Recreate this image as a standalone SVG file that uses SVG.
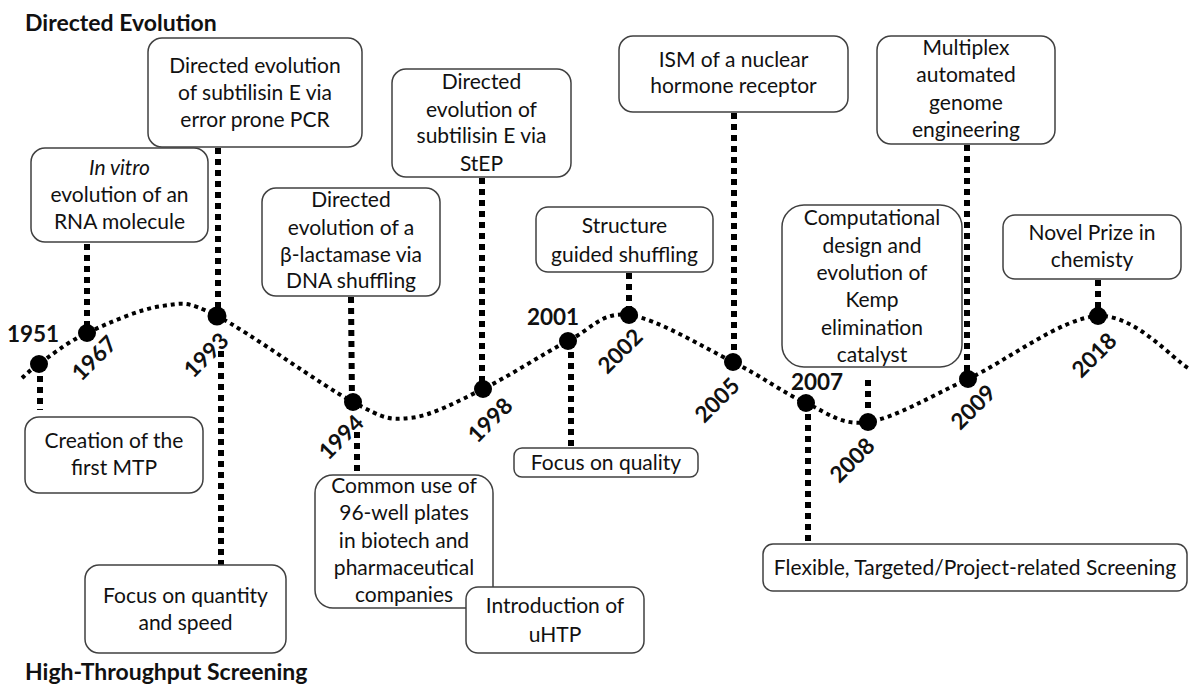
<svg xmlns="http://www.w3.org/2000/svg" width="1192" height="684" viewBox="0 0 1192 684">
<style>
.box{fill:#fff;stroke:#404040;stroke-width:1.5}
.t{font-family:Lato,"Liberation Sans",sans-serif;font-size:21px;fill:#111;text-anchor:middle}
.h{font-family:Lato,"Liberation Sans",sans-serif;font-size:23px;font-weight:bold;fill:#111}
.y{font-family:Lato,"Liberation Sans",sans-serif;font-size:22.5px;font-weight:bold;fill:#111;text-anchor:middle}
.v{stroke:#000;stroke-width:6;stroke-dasharray:6 5;fill:none}
.c{stroke:#000;stroke-width:4;stroke-dasharray:4 4;fill:none}
.dot{fill:#000}
</style>
<rect width="1192" height="684" fill="#fff"/>
<text class="h" x="25" y="31">Directed Evolution</text>
<text class="h" x="25" y="680">High-Throughput Screening</text>

<g id="connectors">
<path class="c" d="M22,378 C24.8,375.7 28.2,371.5 39,364 C49.8,356.5 66,342.7 87,333 C107.5,323.3 140.3,308.8 162,306 C183.7,303.2 185.2,300 217,316 C248.8,332 320.8,385 353,402 C385.2,419 388.3,420.2 410,418 C431.7,415.8 456.7,401.8 483,389 C509.3,376.2 543.7,353.3 568,341 C592.3,328.7 601.5,311.5 629,315 C656.5,318.5 703.5,347.3 733,362 C762.5,376.7 783.5,393 806,403 C828.5,413 841,426 868,422 C895,418 929.7,396.7 968,379 C1006.3,361.3 1061.3,317.8 1098,316 C1134.7,314.2 1173,359.3 1188,368"/>
<line class="v" x1="40" y1="365" x2="40" y2="410"/>
<line class="v" x1="87" y1="244" x2="87" y2="333"/>
<line class="v" x1="218" y1="148" x2="218" y2="316"/>
<line class="v" x1="221" y1="351" x2="221" y2="565"/>
<line class="v" x1="351" y1="297" x2="352" y2="402"/>
<line class="v" x1="357" y1="432" x2="357" y2="475"/>
<line class="v" x1="482" y1="178" x2="482" y2="389"/>
<line class="v" x1="571" y1="341" x2="571" y2="448"/>
<line class="v" x1="629" y1="273" x2="629" y2="315"/>
<line class="v" x1="734" y1="113" x2="734" y2="362"/>
<line class="v" x1="808" y1="403" x2="808" y2="544"/>
<line class="v" x1="868" y1="380" x2="868" y2="408"/>
<line class="v" x1="967" y1="145" x2="967" y2="379"/>
<line class="v" x1="1098" y1="280" x2="1098" y2="316"/>
</g>

<g id="dots">
<circle class="dot" cx="39" cy="364" r="9"/>
<circle class="dot" cx="87" cy="333" r="9"/>
<circle class="dot" cx="217" cy="316" r="9.5"/>
<circle class="dot" cx="353" cy="402" r="9"/>
<circle class="dot" cx="483" cy="389" r="9"/>
<circle class="dot" cx="568" cy="341" r="9"/>
<circle class="dot" cx="629" cy="315" r="9"/>
<circle class="dot" cx="733" cy="362" r="9"/>
<circle class="dot" cx="806" cy="403" r="9"/>
<circle class="dot" cx="868" cy="422" r="9"/>
<circle class="dot" cx="968" cy="379" r="9"/>
<circle class="dot" cx="1098" cy="316" r="9"/>
</g>

<g id="years">
<text class="y" x="33" y="342">1951</text>
<text class="y" x="553" y="325">2001</text>
<text class="y" x="817" y="390">2007</text>
<text class="y" x="94" y="366" transform="rotate(-45 94 358)">1967</text>
<text class="y" x="206" y="363" transform="rotate(-45 206 355)">1993</text>
<text class="y" x="341" y="445" transform="rotate(-45 341 437)">1994</text>
<text class="y" x="490" y="428" transform="rotate(-45 490 420)">1998</text>
<text class="y" x="620" y="359" transform="rotate(-45 620 351)">2002</text>
<text class="y" x="717" y="408" transform="rotate(-45 717 400)">2005</text>
<text class="y" x="852" y="468" transform="rotate(-45 852 460)">2008</text>
<text class="y" x="973" y="415" transform="rotate(-45 973 407)">2009</text>
<text class="y" x="1094" y="363" transform="rotate(-45 1094 355)">2018</text>
</g>

<g id="n-invitro">
<rect class="box" x="31" y="148" width="177" height="94" rx="14"/>
<text class="t" x="119.5" y="175"><tspan font-style="italic">In vitro</tspan></text>
<text class="t" x="119.5" y="202">evolution of an</text>
<text class="t" x="119.5" y="229">RNA molecule</text>
</g>
<g id="n-errorprone">
<rect class="box" x="148" y="38" width="214" height="109" rx="14"/>
<text class="t" x="255" y="73">Directed evolution</text>
<text class="t" x="255" y="100">of subtilisin E via</text>
<text class="t" x="255" y="127">error prone PCR</text>
</g>
<g id="n-step">
<rect class="box" x="392" y="69" width="179" height="108" rx="14"/>
<text class="t" x="481.5" y="89">Directed</text>
<text class="t" x="481.5" y="117">evolution of</text>
<text class="t" x="481.5" y="143">subtilisin E via</text>
<text class="t" x="481.5" y="171">StEP</text>
</g>
<g id="n-ism">
<rect class="box" x="619" y="36" width="229" height="76" rx="14"/>
<text class="t" x="733.5" y="67">ISM of a nuclear</text>
<text class="t" x="733.5" y="93">hormone receptor</text>
</g>
<g id="n-mage">
<rect class="box" x="877" y="36" width="178" height="108" rx="14"/>
<text class="t" x="966" y="55">Multiplex</text>
<text class="t" x="966" y="82">automated</text>
<text class="t" x="966" y="110">genome</text>
<text class="t" x="966" y="137">engineering</text>
</g>
<g id="n-lactamase">
<rect class="box" x="262" y="188" width="178" height="108" rx="14"/>
<text class="t" x="351" y="207">Directed</text>
<text class="t" x="351" y="235">evolution of a</text>
<text class="t" x="351" y="262">β-lactamase via</text>
<text class="t" x="351" y="288">DNA shuffling</text>
</g>
<g id="n-structure">
<rect class="box" x="536" y="207" width="177" height="65" rx="12"/>
<text class="t" x="624.5" y="233">Structure</text>
<text class="t" x="624.5" y="262">guided shuffling</text>
</g>
<g id="n-kemp">
<rect class="box" x="782" y="205" width="180" height="162" rx="22"/>
<text class="t" x="872" y="225">Computational</text>
<text class="t" x="872" y="253">design and</text>
<text class="t" x="872" y="280">evolution of</text>
<text class="t" x="872" y="307">Kemp</text>
<text class="t" x="872" y="335">elimination</text>
<text class="t" x="872" y="362">catalyst</text>
</g>
<g id="n-nobel">
<rect class="box" x="1003" y="215" width="178" height="64" rx="12"/>
<text class="t" x="1092" y="240">Novel Prize in</text>
<text class="t" x="1092" y="267">chemisty</text>
</g>
<g id="n-mtp">
<rect class="box" x="25" y="417" width="178" height="76" rx="14"/>
<text class="t" x="114" y="448">Creation of the</text>
<text class="t" x="114" y="475">first MTP</text>
</g>
<g id="n-quantity">
<rect class="box" x="85" y="565" width="201" height="88" rx="14"/>
<text class="t" x="185.5" y="603">Focus on quantity</text>
<text class="t" x="185.5" y="630">and speed</text>
</g>
<g id="n-96well">
<rect class="box" x="315" y="475" width="178" height="133" rx="18"/>
<text class="t" x="404" y="493">Common use of</text>
<text class="t" x="404" y="520">96-well plates</text>
<text class="t" x="404" y="548">in biotech and</text>
<text class="t" x="404" y="575">pharmaceutical</text>
<text class="t" x="404" y="602">companies</text>
</g>
<g id="n-uhtp">
<rect class="box" x="466" y="587" width="178" height="66" rx="12"/>
<text class="t" x="555" y="613">Introduction of</text>
<text class="t" x="555" y="642">uHTP</text>
</g>
<g id="n-quality">
<rect class="box" x="514" y="448" width="184" height="29" rx="8"/>
<text class="t" x="606" y="470">Focus on quality</text>
</g>
<g id="n-flexible">
<rect class="box" x="763" y="544" width="424" height="47" rx="10"/>
<text class="t" x="975" y="575">Flexible, Targeted/Project-related Screening</text>
</g>
</svg>
